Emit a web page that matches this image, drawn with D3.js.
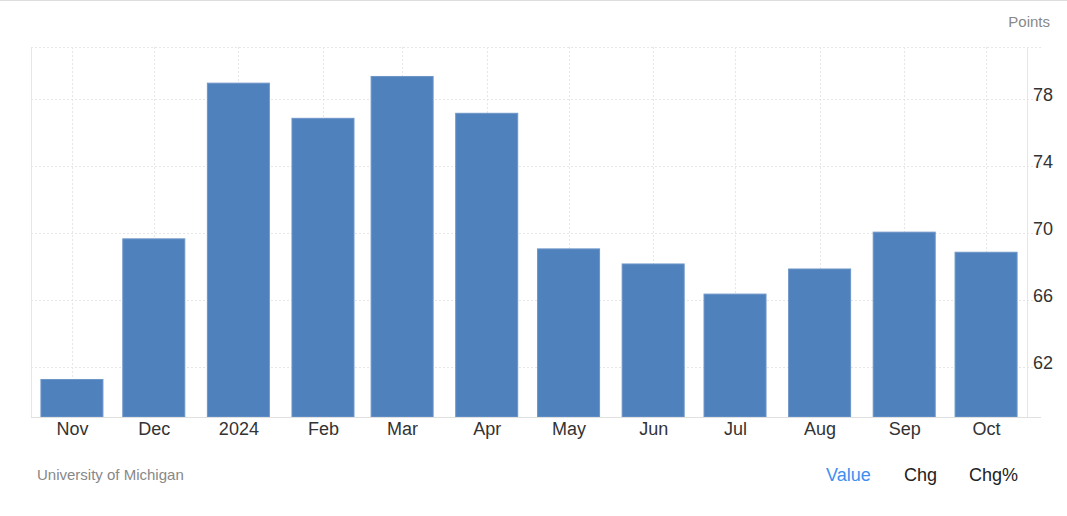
<!DOCTYPE html>
<html><head><meta charset="utf-8">
<script src="https://cdn.jsdelivr.net/npm/d3@7"></script>
<style>body{margin:0;background:#fff;}svg{display:block;font-family:"Liberation Sans",Arial,sans-serif;}</style>
</head><body>
<svg id="c" width="1067" height="516"></svg>
<script>
const months = ["2023-11-01","2023-12-01","2024-01-01","2024-02-01","2024-03-01","2024-04-01","2024-05-01","2024-06-01","2024-07-01","2024-08-01","2024-09-01","2024-10-01"];
const tickLabels = ["Nov","Dec","2024","Feb","Mar","Apr","May","Jun","Jul","Aug","Sep","Oct"];
const values = [61.3,69.7,79.0,76.9,79.4,77.2,69.1,68.2,66.4,67.9,70.1,68.9];
const yTicks = [62,66,70,74,78];

const svg = d3.select("#c");
const L=31,R=1027,T=47,B=417;
const dates = months.map(d=>new Date(d+"T00:00:00Z"));
const x = d3.scaleUtc().domain([new Date("2023-10-17T00:00:00Z"), new Date("2024-10-16T00:00:00Z")]).range([L,R]);
const y = d3.scaleLinear().domain([59,81.1]).range([B,T]);

svg.append("line").attr("x1",0).attr("x2",1067).attr("y1",0.5).attr("y2",0.5).attr("stroke","#ddd");

// grid
const g = svg.append("g");
g.selectAll(".hg").data(yTicks).join("line").attr("x1",L).attr("x2",R+14).attr("y1",d=>Math.round(y(d))+0.5).attr("y2",d=>Math.round(y(d))+0.5).attr("stroke","#e6e6e6").attr("stroke-dasharray","2,2");
g.append("line").attr("x1",L).attr("x2",R+14).attr("y1",T+0.5).attr("y2",T+0.5).attr("stroke","#e6e6e6").attr("stroke-dasharray","2,2");
g.selectAll(".vg").data(dates).join("line").attr("x1",d=>Math.round(x(d))+0.5).attr("x2",d=>Math.round(x(d))+0.5).attr("y1",T).attr("y2",B).attr("stroke","#e6e6e6").attr("stroke-dasharray","2,2");
svg.append("line").attr("x1",L+0.5).attr("x2",L+0.5).attr("y1",T).attr("y2",B).attr("stroke","#e6e6e6");
svg.append("line").attr("x1",R+0.5).attr("x2",R+0.5).attr("y1",T).attr("y2",B).attr("stroke","#e6e6e6");

// bars
const bw=62;
svg.selectAll(".bar").data(values).join("rect")
 .attr("x",(d,i)=>x(dates[i])-bw/2).attr("width",bw)
 .attr("y",d=>y(d)+1).attr("height",d=>B-y(d)-1)
 .attr("fill","#4f81bd").attr("stroke","#6d95c8").attr("stroke-width",1);

svg.append("line").attr("x1",L).attr("x2",R+14).attr("y1",B+0.5).attr("y2",B+0.5).attr("stroke","#e0e0e0");

// x axis
const xa = d3.axisBottom(x).tickValues(dates).tickSize(0).tickPadding(0).tickFormat((d,i)=>tickLabels[i]);
const xg = svg.append("g").attr("transform",`translate(0,${B})`).call(xa);
xg.select(".domain").remove();
xg.selectAll("text").attr("dy",null).attr("y",18).attr("font-size",18).attr("fill","#333").attr("font-family","Liberation Sans, Arial, sans-serif");

// y axis
const ya = d3.axisRight(y).tickValues(yTicks).tickSize(0).tickPadding(0);
const yg = svg.append("g").attr("transform",`translate(${R+6},0)`).call(ya);
yg.select(".domain").remove();
yg.selectAll("text").attr("x",0).attr("font-size",18).attr("fill","#333").attr("font-family","Liberation Sans, Arial, sans-serif").attr("dy","0.1em");

svg.append("text").attr("x",1050).attr("y",27).attr("text-anchor","end").attr("font-size",15).attr("fill","#888").text("Points");
svg.append("text").attr("x",37).attr("y",480).attr("font-size",15).attr("fill","#888").text("University of Michigan");
svg.append("text").attr("x",826).attr("y",481).attr("font-size",18).attr("fill","#3d8ff0").text("Value");
svg.append("text").attr("x",904).attr("y",481).attr("font-size",18).attr("fill","#222").text("Chg");
svg.append("text").attr("x",969).attr("y",481).attr("font-size",18).attr("fill","#222").text("Chg%");
</script>
</body></html>
